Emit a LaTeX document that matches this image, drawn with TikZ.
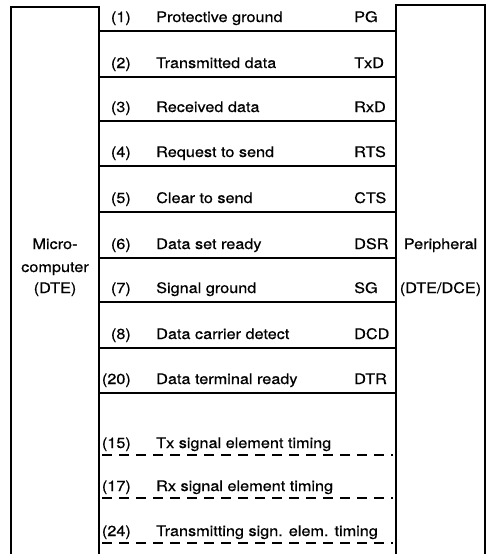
\documentclass[tikz,border=0pt]{standalone}
\usepackage{fontspec}
\setmainfont[FakeStretch=1.12,FakeBold=0.6]{TeX Gyre Heros}

\tikzset{
  box/.style={line width=1.8pt},
  wire/.style={line width=2pt},
  timing/.style={line width=2pt, dash pattern=on 10pt off 7pt},
  txt/.style={inner sep=0pt},
  pin/.style={txt, anchor=base east},
  sig/.style={txt, anchor=base west},
  abbr/.style={txt, anchor=base west},
}

\begin{document}
\begin{tikzpicture}[x=1pt,y=-1pt,font=\fontsize{14.5}{23}\selectfont]
  \useasboundingbox (0,0) rectangle (490,554);

  % equipment boxes, open at the bottom
  \draw[box] (11,554) |- (99,7) -- (99,554);
  \draw[box] (396,554) |- (485,5) -- (485,554);

  \node[txt, anchor=base] (dte1) at (55,249) {Micro-};
  \node[txt, anchor=base] (dte2) at (55,272) {computer};
  \node[txt, anchor=base] (dte3) at (55,293) {(DTE)};
  \node[txt, anchor=base] (per1) at (440.5,249) {Peripheral};
  \node[txt, anchor=base] (per2) at (440.5,293) {(DTE/DCE)};

  % ends of the lines on the box edges
  \coordinate (l1) at (99,31);   \coordinate (r1) at (396,31);
  \coordinate (l2) at (99,77);   \coordinate (r2) at (396,77);
  \coordinate (l3) at (99,121);  \coordinate (r3) at (396,121);
  \coordinate (l4) at (99,166);  \coordinate (r4) at (396,166);
  \coordinate (l5) at (99,212);  \coordinate (r5) at (396,212);
  \coordinate (l6) at (99,258);  \coordinate (r6) at (396,258);
  \coordinate (l7) at (99,302);  \coordinate (r7) at (396,302);
  \coordinate (l8) at (99,348);  \coordinate (r8) at (396,348);
  \coordinate (l20) at (99,393); \coordinate (r20) at (396,393);
  \coordinate (l15) at (102,455); \coordinate (r15) at (393,455);
  \coordinate (l17) at (102,498); \coordinate (r17) at (393,498);
  \coordinate (l24) at (102,543); \coordinate (r24) at (393,543);

  \draw[wire] (l1) -- (r1);
  \draw[wire] (l2) -- (r2);
  \draw[wire] (l3) -- (r3);
  \draw[wire] (l4) -- (r4);
  \draw[wire] (l5) -- (r5);
  \draw[wire] (l6) -- (r6);
  \draw[wire] (l7) -- (r7);
  \draw[wire] (l8) -- (r8);
  \draw[wire] (l20) -- (r20);
  \draw[timing] (l15) -- (r15);
  \draw[timing] (l17) -- (r17);
  \draw[timing] (l24) -- (r24);

  % pin numbers, signal names, abbreviations
  \node[pin] (n1) at (131,22)  {(1)};
  \node[pin] (n2) at (131,68)  {(2)};
  \node[pin] (n3) at (131,112) {(3)};
  \node[pin] (n4) at (131,157) {(4)};
  \node[pin] (n5) at (131,203) {(5)};
  \node[pin] (n6) at (131,249) {(6)};
  \node[pin] (n7) at (131,293) {(7)};
  \node[pin] (n8) at (131,339) {(8)};
  \node[pin] (n20) at (131,384) {(20)};
  \node[pin] (n15) at (131,448) {(15)};
  \node[pin] (n17) at (131,491) {(17)};
  \node[pin] (n24) at (131,536) {(24)};

  \node[sig] (s1) at (156,22)  {Protective ground};
  \node[sig] (s2) at (156,68)  {Transmitted data};
  \node[sig] (s3) at (156,112) {Received data};
  \node[sig] (s4) at (156,157) {Request to send};
  \node[sig] (s5) at (156,203) {Clear to send};
  \node[sig] (s6) at (156,249) {Data set ready};
  \node[sig] (s7) at (156,293) {Signal ground};
  \node[sig] (s8) at (156,339) {Data carrier detect};
  \node[sig] (s20) at (156,384) {Data terminal ready};
  \node[sig] (s15) at (156,448) {Tx signal element timing};
  \node[sig] (s17) at (156,491) {Rx signal element timing};
  \node[sig] (s24) at (156,536) {Transmitting sign. elem. timing};

  \node[abbr] (a1) at (354,22)  {PG};
  \node[abbr] (a2) at (354,68)  {TxD};
  \node[abbr] (a3) at (354,112) {RxD};
  \node[abbr] (a4) at (354,157) {RTS};
  \node[abbr] (a5) at (354,203) {CTS};
  \node[abbr] (a6) at (354,249) {DSR};
  \node[abbr] (a7) at (354,293) {SG};
  \node[abbr] (a8) at (354,339) {DCD};
  \node[abbr] (a20) at (354,384) {DTR};
\end{tikzpicture}
\end{document}
